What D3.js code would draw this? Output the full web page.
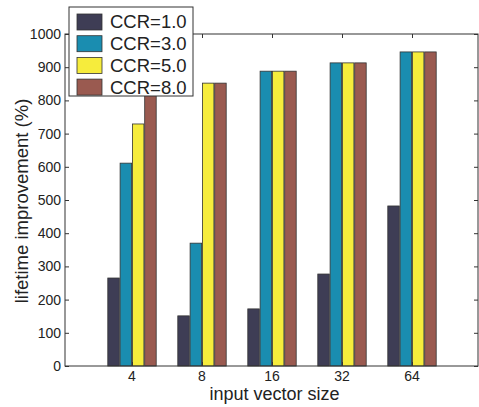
<!DOCTYPE html>
<html>
<head>
<meta charset="utf-8">
<script src="https://cdn.jsdelivr.net/npm/d3@7"></script>
<style>
  body { margin: 0; background: #fff; }
  text { font-family: "Liberation Sans", Arial, sans-serif; fill: #222; }
</style>
</head>
<body>
<div id="chart"></div>
<script>
// data
var sizes = ["4", "8", "16", "32", "64"];
var series = ["CCR=1.0", "CCR=3.0", "CCR=5.0", "CCR=8.0"];
var ccr1 = [265, 151, 172, 277, 482];
var ccr3 = [611, 370, 888, 913, 946];
var ccr5 = [729, 852, 888, 913, 946];
var ccr8 = [840, 852, 888, 913, 946];
var yTicks = [0, 100, 200, 300, 400, 500, 600, 700, 800, 900, 1000];
var colors = ["#3e3d55", "#1a8db0", "#f6ec3c", "#9a5a50"];

var values = [ccr1, ccr3, ccr5, ccr8];

var W = 479, H = 407;
var box = {left: 65, right: 478, top: 34, bottom: 366};

var svg = d3.select("#chart").append("svg")
  .attr("width", W).attr("height", H);

var x = d3.scaleLinear().domain([0, 4]).range([132, 412]);
var y = d3.scaleLinear().domain([0, 1000]).range([box.bottom, box.top]);

var barStep = 12.3, barW = 11.5;

// bars
series.forEach(function(s, j) {
  svg.append("g").selectAll("rect")
    .data(values[j])
    .enter().append("rect")
    .attr("x", function(d, i) { return x(i) + (j - 2) * barStep + (barStep - barW) / 2; })
    .attr("y", function(d) { return y(d); })
    .attr("width", barW)
    .attr("height", function(d) { return y(0) - y(d); })
    .attr("fill", colors[j])
    .attr("stroke", "#333")
    .attr("stroke-width", 0.8);
});

// box
svg.append("rect")
  .attr("x", box.left).attr("y", box.top)
  .attr("width", box.right - box.left).attr("height", box.bottom - box.top)
  .attr("fill", "none").attr("stroke", "#333").attr("stroke-width", 1);

// y axis (ticks inside)
svg.append("g")
  .attr("transform", "translate(" + box.left + ",0)")
  .call(d3.axisRight(y).tickValues(yTicks).tickSize(4).tickFormat(""))
  .call(function(g) { g.select(".domain").remove(); g.selectAll("line").attr("stroke", "#333"); });
svg.append("g")
  .attr("transform", "translate(" + box.right + ",0)")
  .call(d3.axisLeft(y).tickValues(yTicks).tickSize(4).tickFormat(""))
  .call(function(g) { g.select(".domain").remove(); g.selectAll("line").attr("stroke", "#333"); });

svg.append("g").selectAll("text")
  .data(yTicks)
  .enter().append("text")
  .attr("x", box.left - 4)
  .attr("y", function(d) { return y(d); })
  .attr("dy", "0.35em")
  .attr("text-anchor", "end")
  .style("font-size", "14px")
  .text(function(d) { return d; });

// x axis (ticks inside)
var xTicks = d3.range(sizes.length);
svg.append("g")
  .attr("transform", "translate(0," + box.bottom + ")")
  .call(d3.axisTop(x).tickValues(xTicks).tickSize(4).tickFormat(""))
  .call(function(g) { g.select(".domain").remove(); g.selectAll("line").attr("stroke", "#333"); });
svg.append("g")
  .attr("transform", "translate(0," + box.top + ")")
  .call(d3.axisBottom(x).tickValues(xTicks).tickSize(4).tickFormat(""))
  .call(function(g) { g.select(".domain").remove(); g.selectAll("line").attr("stroke", "#333"); });

svg.append("g").selectAll("text")
  .data(sizes)
  .enter().append("text")
  .attr("x", function(d, i) { return x(i); })
  .attr("y", box.bottom + 15)
  .attr("text-anchor", "middle")
  .style("font-size", "14px")
  .text(function(d) { return d; });

// axis titles
svg.append("text")
  .attr("x", (box.left + box.right) / 2 + 3)
  .attr("y", 400)
  .attr("text-anchor", "middle")
  .style("font-size", "18px")
  .text("input vector size");

svg.append("text")
  .attr("transform", "translate(28,201) rotate(-90)")
  .attr("text-anchor", "middle")
  .style("font-size", "18.5px")
  .text("lifetime improvement (%)");

// legend
var legend = svg.append("g");
legend.append("rect")
  .attr("x", 69).attr("y", 7).attr("width", 124).attr("height", 89)
  .attr("fill", "#fff").attr("stroke", "#333").attr("stroke-width", 1);
var item = legend.selectAll("g.item")
  .data(series)
  .enter().append("g")
  .attr("class", "item")
  .attr("transform", function(d, i) { return "translate(0," + (22 + i * 21.7) + ")"; });
item.append("rect")
  .attr("x", 77).attr("y", -8).attr("width", 25).attr("height", 16)
  .attr("fill", function(d, i) { return colors[i]; })
  .attr("stroke", "#333").attr("stroke-width", 0.8);
item.append("text")
  .attr("x", 110).attr("y", 0).attr("dy", "0.35em")
  .style("font-size", "18.5px")
  .text(function(d) { return d; });
</script>
</body>
</html>
